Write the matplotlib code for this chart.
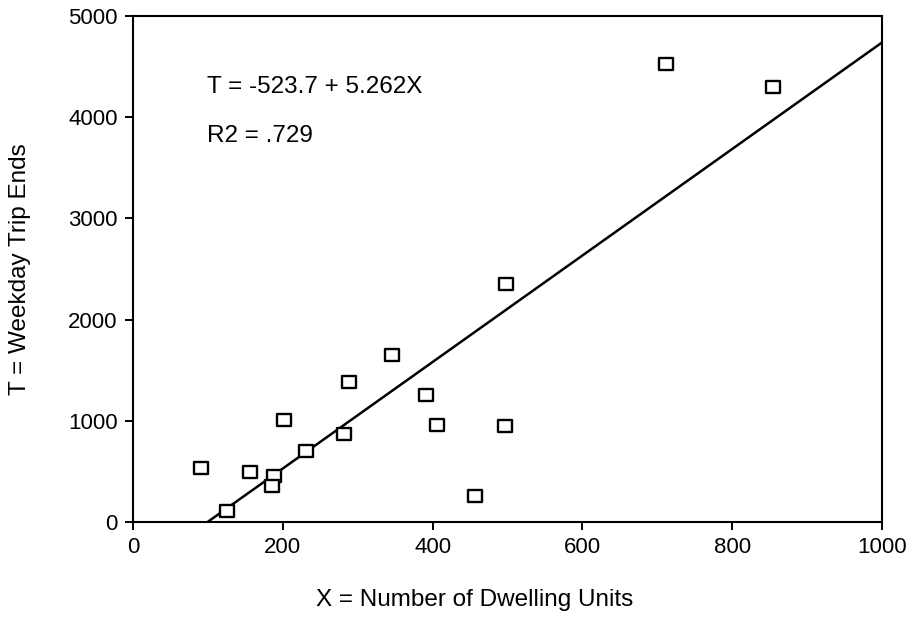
import matplotlib
matplotlib.use("Agg")
import matplotlib.pyplot as plt
import numpy as np
from matplotlib.path import Path

plt.rcParams['font.family'] = ['Liberation Sans', 'DejaVu Sans']

dwelling_units = [91, 156, 188, 185, 125, 201, 231, 282, 288, 346, 391, 406, 497, 457, 498, 712, 854]
trip_ends = [531, 497, 458, 359, 106, 1008, 699, 870, 1380, 1647, 1258, 958, 949, 257, 2352, 4526, 4298]
intercept = -523.7
slope = 5.262
fit_x = [100, 1000]
x_ticks = [0, 200, 400, 600, 800, 1000]
y_ticks = [0, 1000, 2000, 3000, 4000, 5000]

fig = plt.figure(figsize=(9.2, 6.25), dpi=100)
ax = fig.add_axes([0.1446, 0.1648, 0.8141, 0.8096])

fx = np.array(fit_x, dtype=float)
ax.plot(fx, intercept + slope * fx, color='black', lw=1.8, zorder=2)

rect = Path([(-1, -0.85), (1, -0.85), (1, 0.85), (-1, 0.85), (-1, -0.85)],
            [Path.MOVETO, Path.LINETO, Path.LINETO, Path.LINETO, Path.CLOSEPOLY])
ax.plot(dwelling_units, trip_ends, linestyle='none', marker=rect, markersize=10,
        markerfacecolor='white', markeredgecolor='black', markeredgewidth=1.7, zorder=3)

ax.set_xlim(0, 1000)
ax.set_ylim(0, 5000)
ax.set_xticks(x_ticks)
ax.set_yticks(y_ticks)
ax.tick_params(direction='out', length=6, width=1.4, labelsize=16, colors='black', pad=5)
for s in ax.spines.values():
    s.set_linewidth(1.5)

ax.text(99, 4298, 'T = -523.7 + 5.262X', fontsize=17.5, va='center', ha='left')
ax.text(99, 3810, 'R2 = .729', fontsize=17.5, va='center', ha='left')

ax.set_xlabel('X = Number of Dwelling Units', fontsize=17.5, va='center')
ax.xaxis.set_label_coords(0.4566, -0.154)
ax.set_ylabel('T = Weekday Trip Ends', fontsize=17.5, va='center')
ax.yaxis.set_label_coords(-0.151, 0.5)

fig.savefig('out.png', dpi=100)
